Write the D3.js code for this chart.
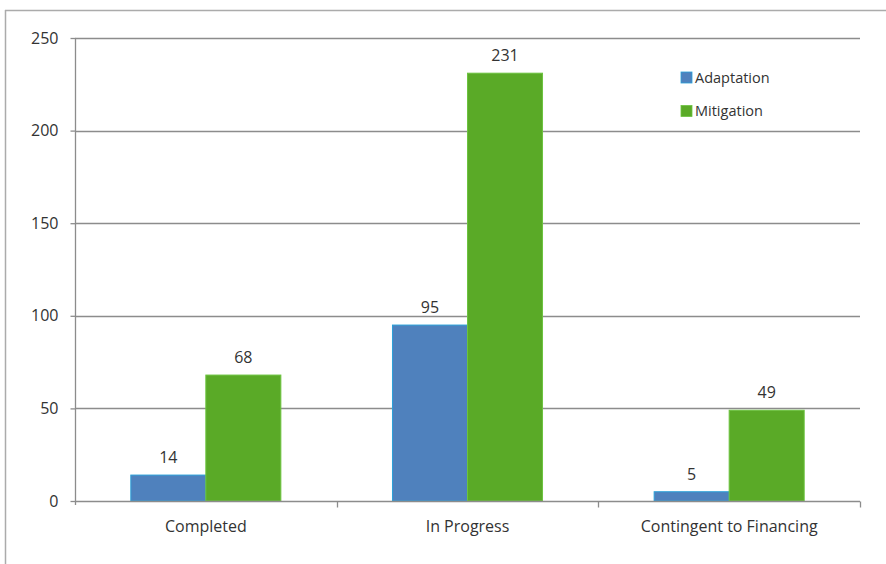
<!DOCTYPE html>
<html>
<head>
<meta charset="utf-8">
<script src="https://cdn.jsdelivr.net/npm/d3@7/dist/d3.min.js"></script>
<style>
  html, body { margin: 0; padding: 0; background: #fff; }
  svg { display: block; }
  text { font-family: "Open Sans", sans-serif; fill: #333; }
</style>
</head>
<body>
<svg id="chart" width="886" height="564"></svg>
<script>
const categories = ["Completed", "In Progress", "Contingent to Financing"];
const seriesNames = ["Adaptation", "Mitigation"];
const adaptation = [14, 95, 5];
const mitigation = [68, 231, 49];
const yTicks = [0, 50, 100, 150, 200, 250];

const colors = { Adaptation: "#4f81bd", Mitigation: "#5aaa27" };
const strokes = { Adaptation: "#2aa0d8", Mitigation: "#6cc33f" };

const svg = d3.select("#chart");
const W = 886, H = 564;
const pLeft = 75, pRight = 860, pTop = 38, pBottom = 501;

// outer frame
svg.append("line").attr("x1", 5).attr("x2", W).attr("y1", 10.5).attr("y2", 10.5)
  .attr("stroke", "#ababab").attr("stroke-width", 1.5);
svg.append("line").attr("x1", 5.5).attr("x2", 5.5).attr("y1", 10).attr("y2", H)
  .attr("stroke", "#ababab").attr("stroke-width", 1.5);

const y = d3.scaleLinear().domain([0, 250]).range([pBottom, pTop]);
const x0 = d3.scaleBand().domain(categories).range([pLeft, pRight]).paddingInner(0).paddingOuter(0);
const x1 = d3.scaleBand().domain(seriesNames).range([0, x0.bandwidth()]).paddingInner(0).paddingOuter(0.744);

// gridlines
svg.append("g").selectAll("line").data(yTicks.filter(d => d > 0)).join("line")
  .attr("x1", pLeft).attr("x2", pRight)
  .attr("y1", d => Math.round(y(d)) + 0.5).attr("y2", d => Math.round(y(d)) + 0.5)
  .attr("stroke", "#8c8c8c").attr("stroke-width", 1.3);

// y axis
const yAxis = d3.axisLeft(y).tickValues(yTicks).tickSize(5).tickPadding(12);
const gy = svg.append("g").attr("transform", `translate(${pLeft + 0.5},0)`).call(yAxis);
gy.select(".domain").attr("stroke", "#8c8c8c").attr("stroke-width", 1.3)
  .attr("d", `M0,${pTop}V${pBottom + 4}`);
gy.selectAll(".tick line").attr("stroke", "#8c8c8c").attr("stroke-width", 1.3);
gy.selectAll(".tick text").style("font-size", "16px").style("font-family", "'Open Sans', sans-serif").attr("fill", "#333");

const data = categories.map((c, i) => ({ cat: c, Adaptation: adaptation[i], Mitigation: mitigation[i] }));

// bars
const groups = svg.append("g").selectAll("g").data(data).join("g")
  .attr("transform", d => `translate(${x0(d.cat)},0)`);
groups.selectAll("rect").data(d => seriesNames.map(s => ({ s, v: d[s] }))).join("rect")
  .attr("x", d => x1(d.s))
  .attr("y", d => y(d.v))
  .attr("width", x1.bandwidth())
  .attr("height", d => y(0) - y(d.v))
  .attr("fill", d => colors[d.s])
  .attr("stroke", d => strokes[d.s])
  .attr("stroke-width", 1);

// value labels
groups.selectAll("text.val").data(d => seriesNames.map(s => ({ s, v: d[s] }))).join("text")
  .attr("class", "val")
  .attr("x", d => x1(d.s) + x1.bandwidth() / 2)
  .attr("y", d => y(d.v) - 12)
  .attr("text-anchor", "middle")
  .style("font-size", "16px")
  .text(d => d.v);

// x axis
const xAxis = d3.axisBottom(x0).tickSize(0).tickPadding(19);
const gx = svg.append("g").attr("transform", `translate(0,${pBottom + 0.5})`).call(xAxis);
gx.select(".domain").attr("stroke", "#8c8c8c").attr("stroke-width", 1.3)
  .attr("d", `M${pLeft},0H${pRight}`);
gx.selectAll(".tick text").style("font-size", "16px").style("font-family", "'Open Sans', sans-serif").attr("fill", "#333");
// category boundary ticks
const bounds = categories.map(c => x0(c) + x0.bandwidth());
gx.append("g").selectAll("line").data(bounds).join("line")
  .attr("x1", d => Math.round(d) + 0.5).attr("x2", d => Math.round(d) + 0.5)
  .attr("y1", 0).attr("y2", 6)
  .attr("stroke", "#8c8c8c").attr("stroke-width", 1.3);

// legend
const legend = svg.append("g").attr("transform", "translate(681,72)");
const li = legend.selectAll("g").data(seriesNames).join("g")
  .attr("transform", (d, i) => `translate(0,${i * 33.5})`);
li.append("rect").attr("width", 11).attr("height", 11)
  .attr("fill", d => colors[d]).attr("stroke", d => strokes[d]).attr("stroke-width", 0.8);
li.append("text").attr("x", 14).attr("y", 5.5).attr("dy", "0.35em")
  .style("font-size", "14.5px").text(d => d);
</script>
</body>
</html>
